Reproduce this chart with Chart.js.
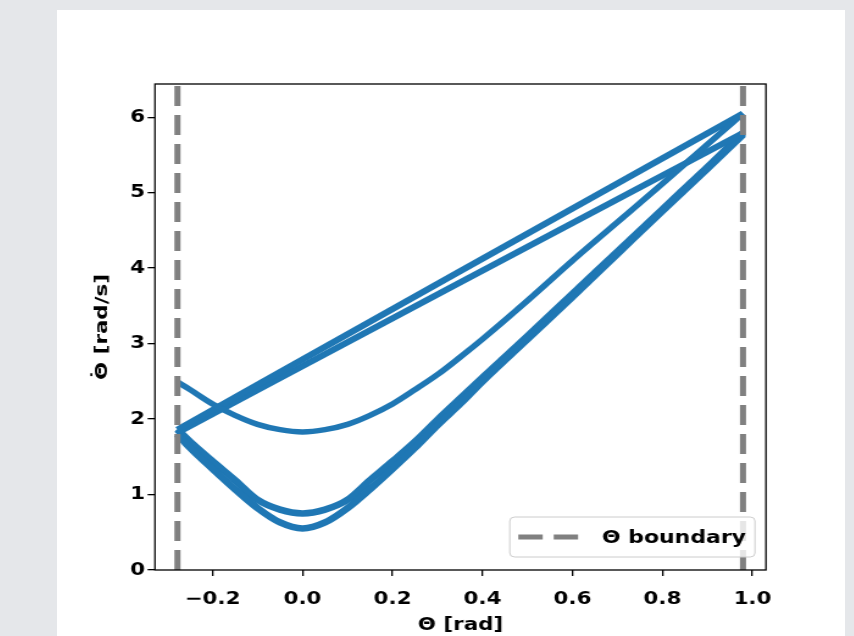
<!DOCTYPE html>
<html>
<head>
<meta charset="utf-8">
<script src="https://cdn.jsdelivr.net/npm/chart.js@4"></script>
<style>
  html, body { margin: 0; padding: 0; background: #e5e7ea; overflow: hidden; }
  #panel { position: absolute; left: 57px; top: 10px; width: 788px; height: 640px; background: #ffffff; }
  #grafico { position: absolute; left: 0; top: 0; transform: scaleX(1.2198); transform-origin: 0 0; }
</style>
</head>
<body>
<div id="panel">
  <canvas id="grafico" width="646" height="626"></canvas>
</div>
<script>
// limites de theta (linhas tracejadas)
const boundaryTheta = [-0.278, 0.979];
const boundaryLabel = 'Θ boundary';

// trajetorias curvas (theta -> theta ponto)
const thetaCurve = [-0.278, -0.25, -0.2, -0.15, -0.1, -0.05, 0, 0.05, 0.1, 0.15, 0.2, 0.25, 0.3, 0.35, 0.4, 0.5, 0.6, 0.7, 0.8, 0.9, 0.979];
const rateStart = [2.49, 2.39, 2.20, 2.05, 1.93, 1.86, 1.83, 1.86, 1.93, 2.05, 2.20, 2.39, 2.59, 2.82, 3.06, 3.57, 4.10, 4.61, 5.12, 5.64, 6.05];
const rateOuter = [1.80, 1.62, 1.34, 1.07, 0.82, 0.63, 0.55, 0.63, 0.82, 1.07, 1.34, 1.62, 1.92, 2.20, 2.50, 3.06, 3.62, 4.19, 4.76, 5.32, 5.77];
const rateInner = [1.86, 1.70, 1.44, 1.19, 0.93, 0.80, 0.75, 0.80, 0.93, 1.19, 1.44, 1.70, 1.99, 2.27, 2.55, 3.10, 3.66, 4.22, 4.78, 5.34, 5.79];

// trajetorias retas
const thetaStraight = [-0.278, 0.35, 0.979];
const rateUpper = [1.86, 3.96, 6.05];
const rateLower = [1.82, 3.81, 5.79];

const xTicks = [-0.2, 0.0, 0.2, 0.4, 0.6, 0.8, 1.0];
const yTicks = [0, 1, 2, 3, 4, 5, 6];

const azul = '#1f77b4';
const cinza = '#808080';
const fonte = 'bold 17.5px "DejaVu Sans"';
const esticar = 1.2198; // mesmo fator do scaleX no css

function pontos(xs, ys) {
    return xs.map((x, i) => ({ x: x, y: ys[i] }));
}

const yMin = 0, yMax = 6.44;

function curva(xs, ys, largura) {
    return {
        label: '',
        data: pontos(xs, ys),
        borderColor: azul,
        borderWidth: largura,
        showLine: true,
        pointRadius: 0,
        cubicInterpolationMode: 'monotone',
        borderJoinStyle: 'round',
        order: 2
    };
}

function limite(x) {
    return {
        label: boundaryLabel,
        data: [{ x: x, y: yMin }, { x: x, y: yMax }],
        borderColor: cinza,
        borderWidth: 5,
        borderDash: [20, 9],
        showLine: true,
        pointRadius: 0,
        order: 1
    };
}

const moldura = {
    id: 'moldura',
    afterDatasetsDraw(chart) {
        const { ctx, chartArea: a } = chart;
        ctx.save();
        ctx.strokeStyle = '#000';
        ctx.lineWidth = 1.3;
        ctx.strokeRect(a.left, a.top, a.right - a.left, a.bottom - a.top);
        ctx.restore();
    },
    afterDraw(chart) {
        const { ctx, chartArea: a } = chart;

        // legenda
        const w = 201, h = 40;
        const x = a.right - 9 - w, y = a.bottom - 13 - h;
        ctx.save();
        ctx.fillStyle = 'rgba(255,255,255,0.8)';
        ctx.strokeStyle = '#cccccc';
        ctx.lineWidth = 1;
        ctx.beginPath();
        if (ctx.roundRect) ctx.roundRect(x, y, w, h, 4); else ctx.rect(x, y, w, h);
        ctx.fill();
        ctx.stroke();
        const meio = y + h / 2;
        ctx.strokeStyle = cinza;
        ctx.lineWidth = 5;
        ctx.setLineDash([20, 9]);
        ctx.beginPath();
        ctx.moveTo(x + 7, meio);
        ctx.lineTo(x + 56, meio);
        ctx.stroke();
        ctx.setLineDash([]);
        ctx.fillStyle = '#000';
        ctx.font = 'bold 18px "DejaVu Sans"';
        ctx.textBaseline = 'middle';
        ctx.fillText(boundaryLabel, x + 75.5, meio + 1);
        ctx.restore();

        // titulo do eixo y (theta ponto)
        ctx.save();
        ctx.translate(35.5, (a.top + a.bottom) / 2);
        ctx.rotate(-Math.PI / 2);
        ctx.scale(esticar, 1 / esticar);
        ctx.font = fonte;
        ctx.fillStyle = '#000';
        ctx.textAlign = 'left';
        ctx.textBaseline = 'alphabetic';
        const base = 'Θ', resto = ' [rad/s]';
        const wBase = ctx.measureText(base).width;
        const wTotal = wBase + ctx.measureText(resto).width;
        const x0 = -wTotal / 2, linhaBase = 6.3;
        ctx.fillText(base, x0, linhaBase);
        ctx.fillText(resto, x0 + wBase, linhaBase);
        const m = ctx.measureText('\u02D9');
        const cx = x0 + wBase / 2 - (m.actualBoundingBoxRight - m.actualBoundingBoxLeft) / 2 + m.actualBoundingBoxLeft;
        const cy = -10 + (m.actualBoundingBoxAscent - m.actualBoundingBoxDescent) / 2;
        ctx.fillText('\u02D9', cx, cy);
        ctx.restore();
    }
};

Chart.defaults.font.family = '"DejaVu Sans"';
Chart.defaults.font.size = 17.5;
Chart.defaults.font.weight = 'bold';
Chart.defaults.color = '#000';

const grafico = document.getElementById('grafico').getContext('2d');

new Chart(grafico, {
    type: 'scatter',
    data: {
        datasets: [
            limite(boundaryTheta[0]),
            limite(boundaryTheta[1]),
            curva(thetaCurve, rateStart, 5.5),
            curva(thetaStraight, rateUpper, 6),
            curva(thetaStraight, rateLower, 6),
            curva(thetaCurve, rateOuter, 6.5),
            curva(thetaCurve, rateInner, 6.5)
        ]
    },
    options: {
        responsive: false,
        animation: false,
        layout: { padding: { left: 0, right: 64.8, top: 74, bottom: 0 } },
        plugins: {
            legend: { display: false },
            tooltip: { enabled: false }
        },
        scales: {
            x: {
                type: 'linear',
                min: -0.328,
                max: 1.030,
                afterBuildTicks: (s) => { s.ticks = xTicks.map(v => ({ value: v })); },
                afterFit: (s) => { s.height = 66; },
                ticks: {
                    padding: 13,
                    callback: (v) => v.toFixed(1).replace('-', '\u2212')
                },
                grid: { drawOnChartArea: false, drawTicks: true, tickLength: 6, color: '#000', lineWidth: 1.3 },
                border: { display: false },
                title: { display: true, text: 'Θ [rad]', padding: { top: 0, bottom: 0 }, font: { size: 17.5, weight: 'bold' } }
            },
            y: {
                type: 'linear',
                min: yMin,
                max: yMax,
                afterBuildTicks: (s) => { s.ticks = yTicks.map(v => ({ value: v })); },
                afterFit: (s) => { s.width = 80.3; },
                ticks: {
                    padding: 2,
                    callback: (v) => String(v)
                },
                grid: { drawOnChartArea: false, drawTicks: true, tickLength: 6, color: '#000', lineWidth: 1.3 },
                border: { display: false },
                title: { display: false }
            }
        }
    },
    plugins: [moldura]
});
</script>
</body>
</html>
